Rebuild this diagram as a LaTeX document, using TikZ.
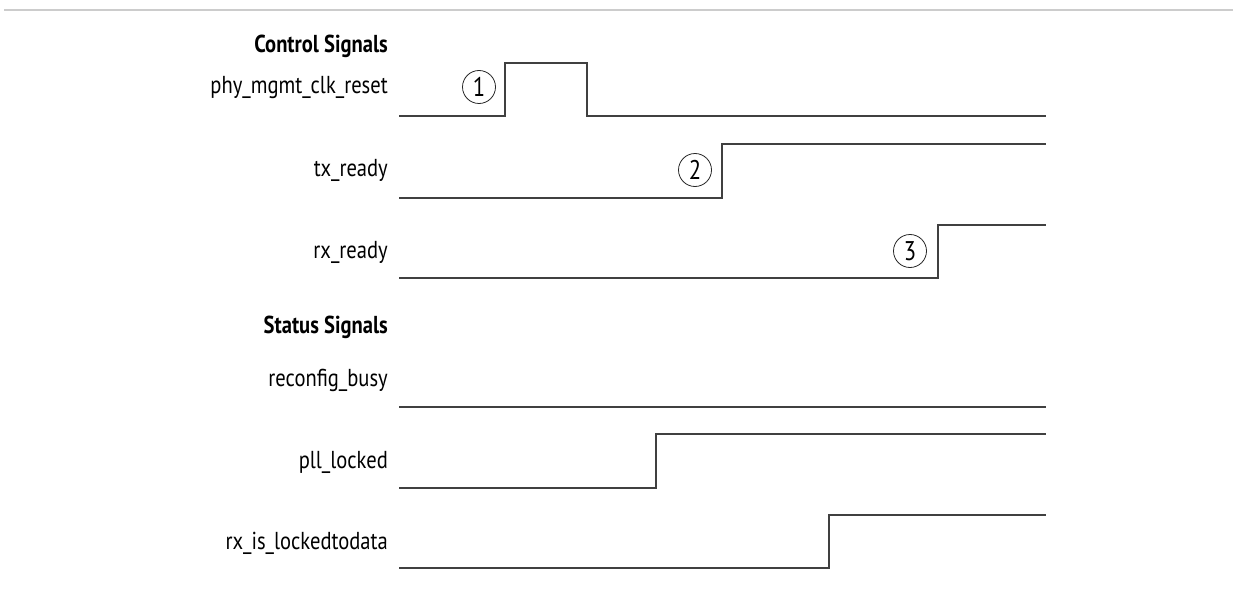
\documentclass[tikz,border=0pt]{standalone}
\usepackage{fontspec}
\setmainfont{PT Sans}[FakeStretch=0.84]

\begin{document}
\begin{tikzpicture}[x=1pt,y=-1pt,
  sig/.style={draw=black!75, line width=1.3pt},
  lbl/.style={anchor=east, inner sep=0pt, font=\fontsize{24.5}{28}\selectfont},
  hdr/.style={anchor=east, inner sep=0pt, font=\fontsize{24.5}{28}\selectfont\bfseries},
  num/.style={circle, draw=black!85, line width=0.8pt, minimum size=33pt,
              inner sep=0pt, font=\fontsize{27}{30}\selectfont}]
\useasboundingbox (0,0) rectangle (1233,591);
\draw[black!20, line width=2pt] (4,10) -- (1233,10);

% signal names
\node[hdr] (ctrl) at (388,46) {Control Signals};
\node[lbl] (phy)  at (388,88) {phy\_mgmt\_clk\_reset};
\node[lbl] (tx)   at (388,170) {tx\_ready};
\node[lbl] (rx)   at (388,252) {rx\_ready};
\node[hdr] (stat) at (388,327) {Status Signals};
\node[lbl] (busy) at (388,380) {reconfig\_busy};
\node[lbl] (pll)  at (388,462) {pll\_locked};
\node[lbl] (lock) at (388,543) {rx\_is\_lockedtodata};

% waveforms
\draw[sig] (399,116) -- (505,116) -- (505,63) -- (587,63) -- (587,116) -- (1046,116);
\draw[sig] (399,198) -- (722,198) -- (722,144) -- (1046,144);
\draw[sig] (399,278) -- (938,278) -- (938,225) -- (1046,225);
\draw[sig] (399,407) -- (1046,407);
\draw[sig] (399,488) -- (656,488) -- (656,434) -- (1046,434);
\draw[sig] (399,568) -- (829,568) -- (829,515) -- (1046,515);

% callouts
\node[num] (one)   at (479,87) {1};
\node[num] (two)   at (695,170) {2};
\node[num] (three) at (910,251) {3};
\end{tikzpicture}
\end{document}
